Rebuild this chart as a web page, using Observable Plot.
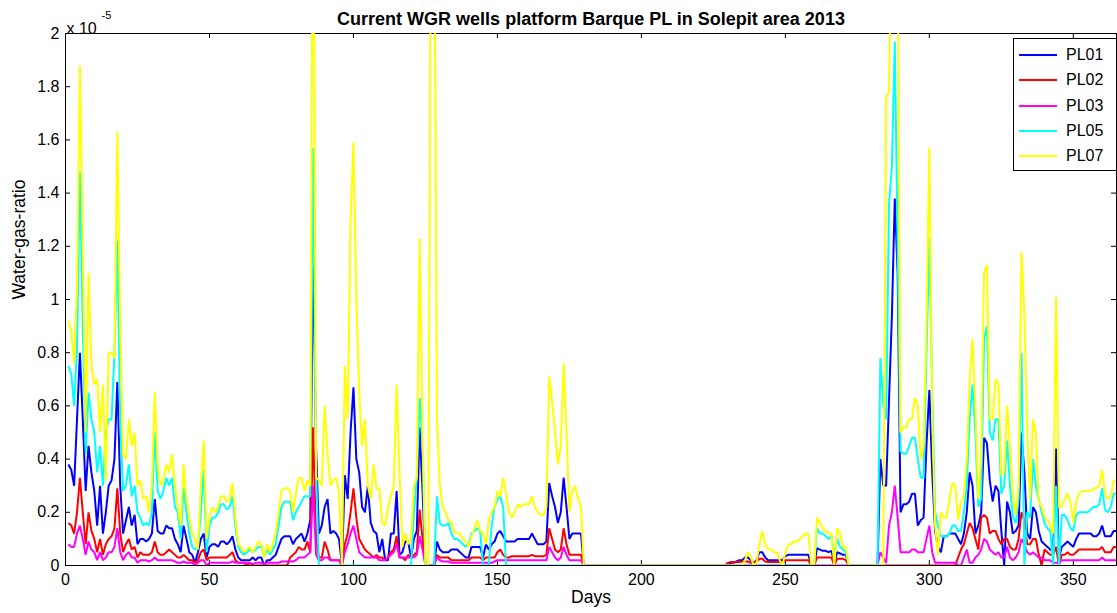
<!DOCTYPE html>
<html>
<head>
<meta charset="utf-8">
<script src="https://cdn.jsdelivr.net/npm/d3@7"></script>
<script src="https://cdn.jsdelivr.net/npm/@observablehq/plot@0.6"></script>
<style>
  html, body { margin: 0; padding: 0; background: #fff; }
  #chart { position: relative; width: 1117px; height: 613px; font-family: "Liberation Sans", Arial, Helvetica, sans-serif; }
  #legend { position: absolute; left: 1013px; top: 38px; width: 104px; height: 133px; box-sizing: border-box;
            border: 1px solid #000; background: #fff; }
  #legend .row { position: absolute; left: 0; height: 20px; line-height: 20px; font-size: 16px; color: #000; white-space: nowrap; }
  #legend svg { position: absolute; left: 4px; top: 0; }
  #legend span { position: absolute; left: 52px; top: 0; }
</style>
</head>
<body>
<div id="chart"></div>
<script>
// Daily water-gas ratio per well, in units of 1e-5 (day 1 .. 365)
const days = d3.range(1, 366);

const PL01 = [
  0.38, 0.36, 0.30, 0.55, 0.80, 0.55, 0.28, 0.45, 0.35, 0.28,
  0.15, 0.30, 0.12, 0.20, 0.30, 0.32, 0.40, 0.69, 0.30, 0.12,
  0.17, 0.22, 0.15, 0.19, 0.08, 0.10, 0.10, 0.09, 0.10, 0.12,
  0.25, 0.13, 0.12, 0.12, 0.15, 0.14, 0.14, 0.10, 0.08, 0.05,
  0.15, 0.10, 0.05, 0.04, 0.01, 0.05, 0.10, 0.12, 0.03, 0.07,
  0.08, 0.08, 0.07, 0.09, 0.09, 0.08, 0.09, 0.11, 0.06, 0.03,
  0.02, 0.02, 0.02, 0.02, 0.03, 0.02, 0.03, 0.03, 0.00, 0.02,
  0.02, 0.03, 0.04, 0.07, 0.10, 0.11, 0.11, 0.11, 0.08, 0.10,
  0.11, 0.12, 0.09, 0.12, 0.17, 1.21, 0.45, 0.12, 0.15, 0.22,
  0.25, 0.12, 0.13, 0.12, 0.10, 0.00, 0.34, 0.25, 0.50, 0.67,
  0.40, 0.35, 0.22, 0.20, 0.30, 0.16, 0.13, 0.12, 0.05, 0.10,
  0.02, 0.02, 0.12, 0.12, 0.28, 0.04, 0.05, 0.09, 0.09, 0.03,
  0.10, 0.13, 0.52, 0.28, 0, 0, 0, 0, 0.09, 0.06,
  0.05, 0.05, 0.05, 0.06, 0.06, 0.06, 0.05, 0.04, 0.03, 0.03,
  0.07, 0.07, 0.07, 0.07, 0.03, 0.08, 0.06, 0.08, 0.09, 0.12,
  0.13, 0.11, 0.09, 0.09, 0.09, 0.09, 0.10, 0.10, 0.10, 0.10,
  0.10, 0.12, 0.10, 0.08, 0.08, 0.08, 0.09, 0.31, 0.26, 0.22,
  0.16, 0.20, 0.33, 0.22, 0.10, 0.12, 0.12, 0.12, 0.12, 0,
  0, 0, 0, 0, 0, 0, 0, 0, 0, 0,
  0, 0, 0, 0, 0, 0, 0, 0, 0, 0,
  0, 0, 0, 0, 0, 0, 0, 0, 0, 0,
  0, 0, 0, 0, 0, 0, 0, 0, 0, 0,
  0, 0, 0, 0, 0, 0, 0, 0, 0, 0,
  0.01, 0.01, 0.015, 0.02, 0.02, 0.03, 0.03, 0.02, 0.01, 0.02,
  0.05, 0.05, 0.03, 0.02, 0.02, 0.02, 0.02, 0.02, 0.02, 0.035,
  0.04, 0.04, 0.04, 0.04, 0.04, 0.04, 0.04, 0.04, 0, 0,
  0.065, 0.06, 0.055, 0.055, 0.05, 0.055, 0.01, 0.05, 0.045, 0.04,
  0.04, 0, 0, 0, 0, 0, 0, 0, 0, 0,
  0, 0, 0.40, 0.30, 0.30, 0.62, 0.94, 1.38, 1.10, 0.20,
  0.23, 0.23, 0.24, 0.27, 0.27, 0.15, 0.17, 0.18, 0.45, 0.66,
  0.35, 0.13, 0.07, 0.05, 0.11, 0.11, 0.12, 0.12, 0.12, 0.10,
  0.08, 0.12, 0.20, 0.35, 0.30, 0.12, 0.15, 0.20, 0.48, 0.46,
  0.32, 0.24, 0.30, 0.28, 0.13, 0, 0.24, 0.20, 0.12, 0.13,
  0.15, 0.50, 0.35, 0.12, 0.10, 0.22, 0.20, 0.13, 0.09, 0.08,
  0.07, 0.06, 0.05, 0.44, 0.03, 0.07, 0.08, 0.09, 0.08, 0.07,
  0.10, 0.12, 0.12, 0.12, 0.12, 0.12, 0.11, 0.11, 0.12, 0.15,
  0.11, 0.11, 0.11, 0.13, 0.13
];

const PL02 = [
  0.16, 0.15, 0.12, 0.20, 0.33, 0.20, 0.08, 0.20, 0.13, 0.10,
  0.05, 0.10, 0.04, 0.08, 0.10, 0.11, 0.14, 0.29, 0.12, 0.05,
  0.08, 0.10, 0.06, 0.07, 0.03, 0.05, 0.04, 0.04, 0.04, 0.05,
  0.09, 0.05, 0.04, 0.04, 0.05, 0.06, 0.05, 0.04, 0.03, 0.03,
  0.04, 0.03, 0.02, 0.02, 0.01, 0.02, 0.05, 0.06, 0.02, 0.03,
  0.03, 0.03, 0.03, 0.03, 0.03, 0.03, 0.04, 0.05, 0.02, 0.01,
  0.01, 0.01, 0, 0.01, 0, 0, 0, 0, 0, 0,
  0, 0, 0, 0, 0, 0, 0, 0.03, 0.04, 0.05,
  0.07, 0.06, 0.06, 0.09, 0.05, 0.52, 0.10, 0.03, 0.03, 0.09,
  0.06, 0.02, 0.02, 0.02, 0.02, 0, 0.08, 0.12, 0.20, 0.29,
  0.18, 0.10, 0.08, 0.06, 0.05, 0.04, 0.03, 0.04, 0.03, 0.03,
  0.02, 0.03, 0.05, 0.06, 0.11, 0.03, 0.03, 0.02, 0.04, 0.03,
  0.04, 0.05, 0.21, 0.10, 0, 0, 0, 0, 0.04, 0.03,
  0.03, 0.03, 0.03, 0.02, 0.02, 0.02, 0.02, 0.02, 0.02, 0.02,
  0.03, 0.03, 0.03, 0.03, 0.02, 0.03, 0.03, 0.03, 0.03, 0.05,
  0.06, 0.04, 0.03, 0.03, 0.035, 0.035, 0.035, 0.035, 0.035, 0.035,
  0.035, 0.04, 0.035, 0.035, 0.035, 0.035, 0.04, 0.14, 0.10, 0.06,
  0.05, 0.06, 0.14, 0.08, 0.04, 0.04, 0.04, 0.04, 0.04, 0,
  0, 0, 0, 0, 0, 0, 0, 0, 0, 0,
  0, 0, 0, 0, 0, 0, 0, 0, 0, 0,
  0, 0, 0, 0, 0, 0, 0, 0, 0, 0,
  0, 0, 0, 0, 0, 0, 0, 0, 0, 0,
  0, 0, 0, 0, 0, 0, 0, 0, 0, 0.01,
  0.013, 0.013, 0.013, 0.013, 0.015, 0.015, 0.015, 0.01, 0.01, 0.015,
  0.025, 0.025, 0.015, 0.013, 0.013, 0.013, 0.013, 0.013, 0.01, 0.02,
  0.02, 0.02, 0.02, 0.02, 0.02, 0.02, 0.02, 0.02, 0, 0,
  0.03, 0.03, 0.03, 0.03, 0.03, 0.03, 0, 0.025, 0.025, 0.025,
  0.02, 0, 0, 0, 0, 0, 0, 0, 0, 0,
  0, 0, 0, 0, 0, 0, 0, 0, 0, 0,
  0, 0, 0, 0, 0, 0, 0, 0, 0, 0,
  0, 0, 0, 0, 0, 0, 0, 0, 0, 0.03,
  0.06, 0.08, 0.12, 0.16, 0.14, 0.10, 0.06, 0.18, 0.19, 0.18,
  0.12, 0.13, 0.13, 0.10, 0.08, 0.10, 0.10, 0.07, 0.06, 0.06,
  0.10, 0.20, 0.17, 0.08, 0.08, 0.10, 0.10, 0.04, 0, 0.06,
  0.05, 0.04, 0.04, 0.07, 0, 0.04, 0.04, 0.05, 0.04, 0.04,
  0.05, 0.06, 0.06, 0.06, 0.06, 0.06, 0.06, 0.06, 0.06, 0.07,
  0.05, 0.05, 0.05, 0.07, 0.07
];

const PL03 = [
  0.08, 0.07, 0.07, 0.12, 0.15, 0.10, 0.04, 0.09, 0.06, 0.05,
  0.02, 0.05, 0.02, 0.03, 0.05, 0.05, 0.07, 0.14, 0.05, 0.02,
  0.04, 0.05, 0.03, 0.03, 0.01, 0.02, 0.02, 0.02, 0.015, 0.02,
  0.03, 0.02, 0.02, 0.02, 0.02, 0.02, 0.02, 0.015, 0.01, 0.01,
  0.015, 0.01, 0.01, 0.01, 0, 0.01, 0.02, 0.02, 0, 0.01,
  0.01, 0.01, 0.01, 0.01, 0.01, 0.01, 0.01, 0.015, 0.01, 0.01,
  0.01, 0.01, 0.01, 0.01, 0.005, 0.01, 0.01, 0.01, 0.005, 0.01,
  0.01, 0.01, 0.01, 0.01, 0.015, 0.015, 0.015, 0.015, 0.015, 0.02,
  0.03, 0.03, 0.03, 0.04, 0.05, 0.30, 0.04, 0.02, 0.02, 0.03,
  0.03, 0.02, 0.02, 0.02, 0.02, 0, 0.05, 0.08, 0.12, 0.15,
  0.10, 0.05, 0.04, 0.03, 0.03, 0.03, 0.03, 0.03, 0.02, 0.02,
  0.02, 0.03, 0.04, 0.05, 0.08, 0.03, 0.03, 0.03, 0.03, 0.03,
  0.03, 0.04, 0.11, 0.06, 0, 0, 0, 0, 0.03, 0.02,
  0.015, 0.015, 0.015, 0.01, 0.01, 0.01, 0.01, 0.01, 0.01, 0.01,
  0.01, 0.01, 0.01, 0.01, 0.01, 0.01, 0.01, 0.01, 0.015, 0.02,
  0.02, 0.02, 0.02, 0.02, 0.02, 0.02, 0.02, 0.02, 0.02, 0.02,
  0.02, 0.02, 0.02, 0.02, 0.02, 0.02, 0.02, 0.07, 0.05, 0.03,
  0.02, 0.03, 0.07, 0.04, 0.02, 0.02, 0.02, 0.02, 0.02, 0,
  0, 0, 0, 0, 0, 0, 0, 0, 0, 0,
  0, 0, 0, 0, 0, 0, 0, 0, 0, 0,
  0, 0, 0, 0, 0, 0, 0, 0, 0, 0,
  0, 0, 0, 0, 0, 0, 0, 0, 0, 0,
  0, 0, 0, 0, 0, 0, 0, 0, 0, 0,
  0, 0, 0, 0, 0, 0, 0, 0, 0, 0,
  0, 0, 0, 0, 0, 0, 0, 0, 0, 0,
  0, 0, 0, 0, 0, 0, 0, 0, 0, 0,
  0, 0, 0, 0, 0, 0, 0, 0, 0, 0,
  0, 0, 0, 0, 0, 0, 0, 0, 0, 0,
  0, 0, 0.05, 0.03, 0.01, 0.15, 0.20, 0.30, 0.18, 0.05,
  0.05, 0.05, 0.05, 0.06, 0.06, 0.05, 0.05, 0.05, 0.10, 0.15,
  0.05, 0.01, 0.01, 0.01, 0.01, 0.01, 0.01, 0.01, 0.01, 0,
  0, 0.03, 0.06, 0.01, 0.01, 0.03, 0.04, 0.06, 0.10, 0.09,
  0.06, 0.05, 0.04, 0.05, 0.03, 0.03, 0.07, 0.03, 0.02, 0.03,
  0.05, 0.10, 0.08, 0.05, 0.04, 0.05, 0.04, 0.03, 0.03, 0.02,
  0.02, 0.02, 0.01, 0.01, 0.01, 0.02, 0.02, 0.02, 0.02, 0.02,
  0.02, 0.02, 0.02, 0.02, 0.02, 0.02, 0.02, 0.02, 0.02, 0.03,
  0.02, 0.02, 0.02, 0.02, 0.02
];

const PL05 = [
  0.75, 0.72, 0.60, 0.82, 1.48, 0.90, 0.42, 0.65, 0.55, 0.50,
  0.35, 0.45, 0.30, 0.50, 0.55, 0.55, 0.80, 1.22, 0.55, 0.28,
  0.30, 0.38, 0.26, 0.30, 0.20, 0.18, 0.15, 0.16, 0.15, 0.20,
  0.50, 0.28, 0.25, 0.28, 0.33, 0.30, 0.33, 0.22, 0.20, 0.10,
  0.29, 0.20, 0.12, 0.07, 0.06, 0.07, 0.20, 0.36, 0.05, 0.15,
  0.18, 0.18, 0.20, 0.23, 0.23, 0.21, 0.22, 0.26, 0.15, 0.07,
  0.05, 0.04, 0.05, 0.06, 0.05, 0.06, 0.07, 0.07, 0.03, 0.06,
  0.04, 0.06, 0.08, 0.15, 0.22, 0.24, 0.24, 0.24, 0.17, 0.20,
  0.22, 0.24, 0.26, 0.26, 0.26, 1.57, 0.37, 0, 0, 0,
  0, 0, 0, 0, 0, 0, 0, 0, 0, 0,
  0, 0, 0, 0, 0, 0, 0, 0, 0, 0,
  0, 0, 0, 0, 0, 0, 0, 0, 0, 0,
  0.20, 0.33, 0.63, 0.45, 0, 0, 0, 0, 0.26, 0.16,
  0.15, 0.15, 0.16, 0.12, 0.10, 0.10, 0.09, 0.08, 0.07, 0.08,
  0.12, 0.13, 0.14, 0.13, 0, 0, 0, 0.15, 0.22, 0.25,
  0.26, 0.22, 0, 0, 0, 0, 0, 0, 0, 0,
  0, 0, 0, 0, 0, 0, 0, 0, 0, 0,
  0, 0, 0, 0, 0, 0, 0, 0, 0, 0,
  0, 0, 0, 0, 0, 0, 0, 0, 0, 0,
  0, 0, 0, 0, 0, 0, 0, 0, 0, 0,
  0, 0, 0, 0, 0, 0, 0, 0, 0, 0,
  0, 0, 0, 0, 0, 0, 0, 0, 0, 0,
  0, 0, 0, 0, 0, 0, 0, 0, 0, 0,
  0, 0, 0, 0, 0, 0, 0, 0, 0, 0,
  0, 0, 0, 0, 0, 0, 0, 0, 0, 0,
  0, 0, 0, 0, 0, 0, 0, 0, 0, 0,
  0.14, 0.12, 0.12, 0.11, 0.10, 0.11, 0.04, 0.10, 0.07, 0.06,
  0.05, 0, 0, 0, 0, 0, 0, 0, 0, 0,
  0, 0, 0.78, 0.60, 0.55, 1.36, 1.50, 1.97, 1.20, 0.43,
  0.42, 0.42, 0.45, 0.48, 0.48, 0.40, 0.33, 0.33, 0.80, 1.23,
  0.65, 0.20, 0.15, 0.11, 0.11, 0.11, 0.12, 0.15, 0.15, 0.13,
  0.13, 0.20, 0.30, 0.55, 0.68, 0.50, 0.22, 0.25, 0.85, 0.90,
  0.50, 0.47, 0.55, 0.55, 0.27, 0.30, 0.47, 0.30, 0.18, 0.16,
  0.25, 0.80, 0, 0.20, 0.18, 0.40, 0.30, 0.25, 0.20, 0.16,
  0.14, 0.13, 0, 0.30, 0, 0.19, 0.19, 0.17, 0.14, 0.13,
  0.19, 0.20, 0.20, 0.20, 0.20, 0.21, 0.22, 0.22, 0.23, 0.29,
  0.21, 0.20, 0.22, 0.27, 0.27
];

const PL07 = [
  0.92, 0.88, 0.76, 1.05, 1.88, 1.20, 0.50, 1.10, 0.75, 0.68,
  0.70, 0.50, 0.68, 0.32, 0.80, 0.80, 0.78, 1.63, 0.90, 0.42,
  0.40, 0.55, 0.45, 0.50, 0.30, 0.32, 0.25, 0.26, 0.20, 0.30,
  0.65, 0.38, 0.30, 0.32, 0.38, 0.35, 0.42, 0.30, 0.22, 0.15,
  0.38, 0.25, 0.18, 0.12, 0.10, 0.06, 0.30, 0.47, 0.10, 0.18,
  0.22, 0.20, 0.22, 0.26, 0.26, 0.24, 0.25, 0.31, 0.18, 0.08,
  0.07, 0.05, 0.06, 0.07, 0.05, 0.07, 0.09, 0.08, 0.03, 0.08,
  0.05, 0.08, 0.12, 0.20, 0.28, 0.29, 0.29, 0.28, 0.20, 0.27,
  0.33, 0.33, 0.28, 0.32, 0.30, 3.00, 0.33, 0.32, 0.30, 0.60,
  0.42, 0.30, 0.32, 0.33, 0.27, 0, 0.75, 0.55, 1.30, 1.59,
  1.00, 0.65, 0.45, 0.55, 0.30, 0.25, 0.38, 0.29, 0.29, 0.16,
  0.15, 0.22, 0.26, 0.30, 0.68, 0.35, 0.07, 0.12, 0.08, 0.10,
  0.30, 0.33, 1.23, 0.50, 0, 0, 2.80, 2.80, 0.55, 0.30,
  0.22, 0.20, 0.17, 0.16, 0.13, 0.12, 0.12, 0.10, 0.09, 0.07,
  0.11, 0.14, 0.17, 0.13, 0.12, 0.08, 0.17, 0.20, 0.22, 0.28,
  0.26, 0.33, 0.27, 0.20, 0.18, 0.20, 0.23, 0.22, 0.23, 0.23,
  0.23, 0.26, 0.22, 0.20, 0.19, 0.19, 0.22, 0.71, 0.62, 0.50,
  0.38, 0.45, 0.76, 0.50, 0.20, 0.28, 0.30, 0.25, 0.22, 0,
  0, 0, 0, 0, 0, 0, 0, 0, 0, 0,
  0, 0, 0, 0, 0, 0, 0, 0, 0, 0,
  0, 0, 0, 0, 0, 0, 0, 0, 0, 0,
  0, 0, 0, 0, 0, 0, 0, 0, 0, 0,
  0, 0, 0, 0, 0, 0, 0, 0, 0, 0,
  0, 0, 0, 0, 0, 0.02, 0.05, 0.03, 0, 0.01,
  0.08, 0.13, 0.08, 0.06, 0.06, 0.05, 0.05, 0.02, 0, 0.05,
  0.08, 0.08, 0.09, 0.09, 0.10, 0.11, 0.12, 0.12, 0, 0,
  0.18, 0.16, 0.14, 0.13, 0.12, 0.12, 0, 0.14, 0.12, 0.07,
  0.07, 0, 0, 0, 0, 0, 0, 0, 0, 0,
  0, 0, 0, 0, 1.76, 1.78, 2.60, 2.60, 2.30, 0.50,
  0.52, 0.52, 0.55, 0.55, 0.63, 0.60, 0.40, 0.45, 0.90, 1.57,
  0.55, 0.15, 0.04, 0.20, 0.18, 0.18, 0.25, 0.31, 0.30, 0.17,
  0.24, 0.26, 0.40, 0.70, 0.85, 0.60, 0.25, 0.40, 1.10, 1.13,
  0.55, 0.55, 0.70, 0.68, 0.34, 0.35, 0.60, 0.45, 0.27, 0.19,
  0.30, 1.18, 0.95, 0.50, 0.25, 0.55, 0.50, 0.24, 0.22, 0.18,
  0.17, 0.15, 0.12, 1.01, 0.22, 0.22, 0.25, 0.27, 0.24, 0.16,
  0.24, 0.27, 0.28, 0.28, 0.28, 0.28, 0.29, 0.29, 0.30, 0.36,
  0.27, 0.25, 0.26, 0.32, 0.32
];

const seriesNames = ["PL01", "PL02", "PL03", "PL05", "PL07"];
const seriesValues = [PL01, PL02, PL03, PL05, PL07];
const seriesColors = ["#0000ff", "#ff0000", "#ff00ff", "#00ffff", "#ffff00"];

const xTicks = [0, 50, 100, 150, 200, 250, 300, 350];
const yTicks = [0, 0.2, 0.4, 0.6, 0.8, 1, 1.2, 1.4, 1.6, 1.8, 2];

const titleText = "Current WGR wells platform Barque PL in Solepit area 2013";
const xLabel = "Days";
const yLabel = "Water-gas-ratio";

seriesValues.forEach((vals, i) => {
  if (vals.length !== days.length) throw new Error(seriesNames[i] + " has " + vals.length + " values");
});

const rows = seriesNames.map((name, i) =>
  seriesValues[i].map((v, j) => ({day: days[j], value: v, series: name}))
);

const W = 1117, H = 613;
const mL = 65, mR = 1, mT = 33, mB = 48;
const fw = W - mL - mR, fh = H - mT - mB;
const tick = 5;
const font = "'Liberation Sans', Arial, Helvetica, sans-serif";

const chart = Plot.plot({
  width: W,
  height: H,
  marginLeft: mL, marginRight: mR, marginTop: mT, marginBottom: mB,
  style: {fontFamily: font, fontSize: "16px", color: "#000", background: "#fff", overflow: "visible"},
  x: {domain: [0, 365], label: null},
  y: {domain: [0, 2], label: null},
  marks: [
    Plot.axisX({ticks: xTicks, tickSize: 0, tickPadding: 8, fontSize: 16, label: null}),
    Plot.axisY({ticks: yTicks, tickSize: 0, tickPadding: 6, fontSize: 16, label: null, tickFormat: d => String(d)}),
    // inward tick marks on all four sides of the box
    Plot.ruleX(xTicks, {insetTop: fh - tick, stroke: "#000", strokeWidth: 1}),
    Plot.ruleX(xTicks, {insetBottom: fh - tick, stroke: "#000", strokeWidth: 1}),
    Plot.ruleY(yTicks, {insetRight: fw - tick, stroke: "#000", strokeWidth: 1}),
    Plot.ruleY(yTicks, {insetLeft: fw - tick, stroke: "#000", strokeWidth: 1}),
    Plot.frame({stroke: "#000", strokeWidth: 1}),
    ...rows.map((data, i) => Plot.line(data, {
      x: "day", y: "value", stroke: seriesColors[i], strokeWidth: 2, clip: true,
      strokeLinejoin: "miter", strokeLinecap: "butt"
    })),
    Plot.text([titleText], {text: d => d, frameAnchor: "top", dy: -21, fontSize: 18, fontWeight: "bold"}),
    Plot.text([xLabel], {text: d => d, frameAnchor: "bottom", dy: 37, fontSize: 17.5}),
    Plot.text([yLabel], {text: d => d, frameAnchor: "left", dx: -46, rotate: -90, fontSize: 17.5}),
    // axis exponent "x 10^-5"
    Plot.text(["x 10"], {text: d => d, frameAnchor: "top-left", textAnchor: "start", dx: 1, dy: -11, fontSize: 16}),
    Plot.text(["-5"], {text: d => d, frameAnchor: "top-left", textAnchor: "start", dx: 36, dy: -22, fontSize: 11})
  ]
});

const root = document.getElementById("chart");
root.appendChild(chart);

// Legend box in the upper right corner of the axes
const legend = d3.select(root).append("div").attr("id", "legend");
seriesNames.forEach((name, i) => {
  const row = legend.append("div").attr("class", "row").style("top", (6 + i * 25.3) + "px").style("width", "100px");
  const svg = row.append("svg").attr("width", 40).attr("height", 20);
  svg.append("line").attr("x1", 1).attr("x2", 39).attr("y1", 10).attr("y2", 10)
    .attr("stroke", seriesColors[i]).attr("stroke-width", 2);
  row.append("span").text(name);
});
</script>
</body>
</html>
